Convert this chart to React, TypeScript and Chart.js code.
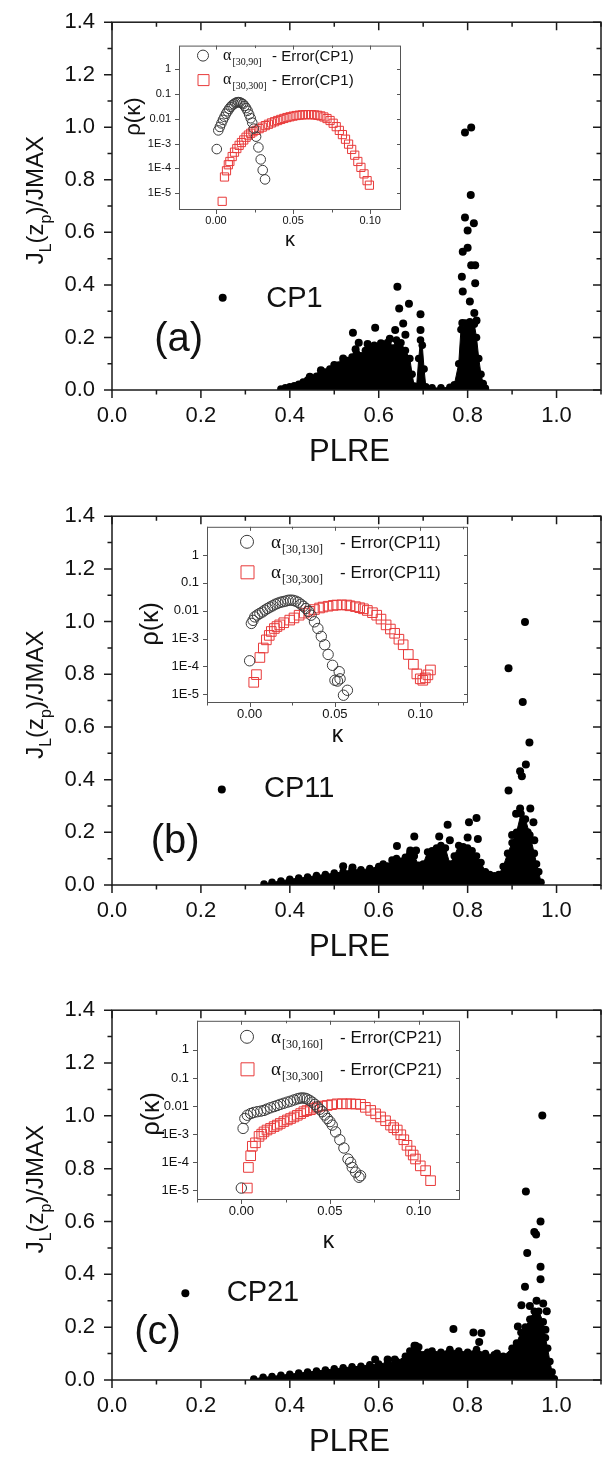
import React, { useEffect, useRef } from "react";
import { Chart, registerables } from "chart.js";
Chart.register(...registerables);

const SANS = '"Liberation Sans", Arial, Helvetica, sans-serif';
const SERIF = '"Liberation Serif", "Times New Roman", serif';

// ---------- axis ticks ----------
const plreTicks = [0, 0.2, 0.4, 0.6, 0.8, 1.0];
const plreMinorTicks = [0.1, 0.3, 0.5, 0.7, 0.9, 1.1];
const jTicks = [0, 0.2, 0.4, 0.6, 0.8, 1.0, 1.2, 1.4];
const jMinorTicks = [0.1, 0.3, 0.5, 0.7, 0.9, 1.1, 1.3];
const kappaTicks = [0, 0.05, 0.1];
const kappaTickLabels = ["0.00", "0.05", "0.10"];
const kappaMinorTicks = [-0.025, 0.025, 0.075, 0.125];
const rhoTicks = [1e-5, 1e-4, 1e-3, 0.01, 0.1, 1];
const rhoTickLabels = ["1E-5", "1E-4", "1E-3", "0.01", "0.1", "1"];

// ---------- CP1 (a) ----------
const cp1MassX = [0.38, 0.39, 0.4, 0.41, 0.42, 0.43, 0.44, 0.45, 0.46, 0.47, 0.48, 0.49, 0.5, 0.51, 0.52, 0.53, 0.54, 0.55, 0.56, 0.57, 0.58, 0.59, 0.6, 0.61, 0.62, 0.63, 0.64, 0.65, 0.66, 0.67, 0.675, 0.68, 0.685, 0.69, 0.694, 0.698, 0.702, 0.706, 0.72, 0.74, 0.76, 0.77, 0.78, 0.785, 0.795, 0.805, 0.815, 0.82, 0.825, 0.83, 0.835, 0.84];
const cp1MassY = [0.004, 0.008, 0.012, 0.016, 0.022, 0.03, 0.038, 0.044, 0.052, 0.062, 0.068, 0.08, 0.086, 0.095, 0.108, 0.112, 0.125, 0.14, 0.13, 0.15, 0.16, 0.17, 0.155, 0.165, 0.17, 0.16, 0.19, 0.18, 0.15, 0.12, 0.06, 0.015, 0.01, 0.12, 0.19, 0.17, 0.08, 0.012, 0.008, 0.008, 0.01, 0.02, 0.1, 0.23, 0.255, 0.26, 0.25, 0.2, 0.12, 0.06, 0.025, 0.006];
const cp1OutX = [0.794, 0.808, 0.807, 0.814, 0.794, 0.8, 0.8, 0.789, 0.808, 0.817, 0.787, 0.817, 0.789, 0.805, 0.815, 0.788, 0.82, 0.642, 0.646, 0.668, 0.694, 0.655, 0.694, 0.542, 0.592, 0.637, 0.555, 0.548, 0.575, 0.605, 0.62, 0.66, 0.625, 0.47, 0.5, 0.52, 0.445];
const cp1OutY = [0.98, 0.999, 0.742, 0.635, 0.657, 0.607, 0.541, 0.526, 0.475, 0.475, 0.431, 0.406, 0.375, 0.337, 0.293, 0.255, 0.265, 0.393, 0.31, 0.328, 0.288, 0.253, 0.228, 0.218, 0.237, 0.228, 0.18, 0.155, 0.175, 0.178, 0.18, 0.21, 0.195, 0.075, 0.095, 0.12, 0.05];
const cp1KeyX = [0.249];
const cp1KeyY = [0.351];
const cp1NarrowKappa = [0.0005, 0.0015, 0.0025, 0.0035, 0.0045, 0.0055, 0.0065, 0.0075, 0.0085, 0.0095, 0.0105, 0.0115, 0.0125, 0.0135, 0.0145, 0.0155, 0.0165, 0.0175, 0.0185, 0.0195, 0.0205, 0.0215, 0.0225, 0.0235, 0.0245, 0.026, 0.0275, 0.029, 0.0303, 0.0318];
const cp1NarrowRho = [6e-4, 3.4e-3, 4.7e-3, 6.5e-3, 9e-3, 0.012, 0.016, 0.02, 0.025, 0.03, 0.035, 0.039, 0.043, 0.046, 0.047, 0.046, 0.043, 0.039, 0.033, 0.027, 0.021, 0.015, 0.0105, 7e-3, 4e-3, 1.9e-3, 7e-4, 2.3e-4, 8.5e-5, 3.6e-5];
const cp1FullKappa = [0.004, 0.0055, 0.0068, 0.008, 0.009, 0.0105, 0.012, 0.0135, 0.015, 0.0165, 0.018, 0.0195, 0.021, 0.0225, 0.024, 0.026, 0.028, 0.03, 0.032, 0.034, 0.036, 0.038, 0.04, 0.042, 0.044, 0.046, 0.048, 0.05, 0.052, 0.054, 0.056, 0.058, 0.06, 0.062, 0.064, 0.066, 0.068, 0.07, 0.072, 0.074, 0.076, 0.078, 0.08, 0.082, 0.084, 0.086, 0.088, 0.09, 0.092, 0.094, 0.096, 0.098, 0.0995];
const cp1FullRho = [4.7e-6, 4.5e-5, 8e-5, 1.4e-4, 1.9e-4, 3e-4, 4.5e-4, 6.3e-4, 8.5e-4, 1.1e-3, 1.4e-3, 1.8e-3, 2.2e-3, 2.6e-3, 3e-3, 3.4e-3, 4e-3, 4.6e-3, 5.3e-3, 6e-3, 6.8e-3, 7.6e-3, 8.5e-3, 9.4e-3, 0.0103, 0.0112, 0.012, 0.0128, 0.0135, 0.014, 0.0144, 0.0146, 0.0147, 0.0146, 0.0143, 0.0138, 0.013, 0.0118, 0.0102, 8.5e-3, 6.6e-3, 4.8e-3, 3.4e-3, 2.3e-3, 1.5e-3, 9.5e-4, 5.8e-4, 3.4e-4, 1.9e-4, 1.1e-4, 6e-5, 3.2e-5, 2.1e-5];

// ---------- CP11 (b) ----------
const cp11MassX = [0.342, 0.36, 0.38, 0.4, 0.42, 0.44, 0.46, 0.48, 0.5, 0.52, 0.54, 0.56, 0.58, 0.6, 0.61, 0.62, 0.63, 0.64, 0.65, 0.66, 0.67, 0.68, 0.69, 0.7, 0.71, 0.72, 0.73, 0.74, 0.75, 0.76, 0.77, 0.78, 0.79, 0.8, 0.81, 0.82, 0.83, 0.84, 0.85, 0.86, 0.87, 0.88, 0.89, 0.9, 0.91, 0.92, 0.93, 0.94, 0.95, 0.955, 0.96, 0.965];
const cp11MassY = [0.004, 0.01, 0.015, 0.022, 0.026, 0.03, 0.036, 0.04, 0.045, 0.05, 0.058, 0.058, 0.062, 0.07, 0.08, 0.072, 0.095, 0.1, 0.09, 0.105, 0.12, 0.11, 0.075, 0.08, 0.125, 0.13, 0.14, 0.15, 0.14, 0.08, 0.11, 0.15, 0.145, 0.14, 0.13, 0.11, 0.085, 0.05, 0.04, 0.035, 0.04, 0.07, 0.12, 0.16, 0.2, 0.27, 0.25, 0.19, 0.12, 0.08, 0.05, 0.01];
const cp11OutX = [0.929, 0.892, 0.924, 0.939, 0.931, 0.918, 0.922, 0.892, 0.918, 0.941, 0.909, 0.948, 0.935, 0.82, 0.803, 0.755, 0.68, 0.736, 0.823, 0.641, 0.671, 0.684, 0.52, 0.541, 0.8, 0.76, 0.9, 0.95];
const cp11OutY = [0.998, 0.823, 0.695, 0.541, 0.457, 0.432, 0.413, 0.359, 0.29, 0.29, 0.27, 0.238, 0.2, 0.254, 0.238, 0.229, 0.184, 0.184, 0.175, 0.148, 0.131, 0.131, 0.071, 0.066, 0.18, 0.17, 0.19, 0.17];
const cp11KeyX = [0.247];
const cp11KeyY = [0.363];
const cp11NarrowKappa = [0.0, 0.001, 0.002, 0.003, 0.0045, 0.006, 0.0075, 0.009, 0.0105, 0.012, 0.0135, 0.015, 0.0165, 0.018, 0.0195, 0.021, 0.0225, 0.024, 0.0255, 0.027, 0.0285, 0.03, 0.0315, 0.033, 0.0345, 0.036, 0.038, 0.04, 0.042, 0.044, 0.046, 0.0486, 0.05, 0.0515, 0.0525, 0.053, 0.055, 0.0573];
const cp11NarrowRho = [1.6e-4, 3.5e-3, 4.5e-3, 6e-3, 7e-3, 8e-3, 9e-3, 0.0105, 0.012, 0.0135, 0.015, 0.017, 0.0185, 0.02, 0.021, 0.022, 0.0235, 0.024, 0.0235, 0.022, 0.02, 0.017, 0.0145, 0.012, 0.0095, 6.9e-3, 4e-3, 2.3e-3, 1.2e-3, 6e-4, 2.7e-4, 1.1e-4, 3.2e-5, 3e-5, 6.5e-5, 3.6e-5, 9.3e-6, 1.4e-5];
const cp11FullKappa = [0.0024, 0.004, 0.006, 0.008, 0.0098, 0.0115, 0.0127, 0.0145, 0.016, 0.0176, 0.02, 0.0235, 0.026, 0.029, 0.032, 0.035, 0.038, 0.041, 0.043, 0.046, 0.049, 0.051, 0.054, 0.057, 0.0588, 0.062, 0.0645, 0.0667, 0.069, 0.072, 0.0745, 0.077, 0.08, 0.0825, 0.085, 0.0875, 0.09, 0.093, 0.096, 0.098, 0.1, 0.1015, 0.103, 0.1045, 0.106];
const cp11FullRho = [2.7e-5, 5.1e-5, 2.1e-4, 4.6e-4, 9e-4, 1.3e-3, 1.8e-3, 2.3e-3, 2.7e-3, 3.1e-3, 3.7e-3, 4.6e-3, 5.5e-3, 6.9e-3, 8.2e-3, 9.5e-3, 0.011, 0.0125, 0.0135, 0.0145, 0.0155, 0.016, 0.0162, 0.016, 0.015, 0.014, 0.0128, 0.0117, 0.0102, 8.5e-3, 6.9e-3, 5e-3, 3.1e-3, 2.2e-3, 1.55e-3, 9.5e-4, 6e-4, 2.7e-4, 1.2e-4, 5.4e-5, 3.6e-5, 3.2e-5, 3.9e-5, 5e-5, 7.5e-5];

// ---------- CP21 (c) ----------
const cp21MassX = [0.319, 0.34, 0.36, 0.38, 0.4, 0.42, 0.44, 0.46, 0.48, 0.5, 0.52, 0.54, 0.56, 0.58, 0.6, 0.62, 0.64, 0.66, 0.67, 0.68, 0.69, 0.7, 0.71, 0.72, 0.74, 0.76, 0.78, 0.8, 0.82, 0.84, 0.86, 0.88, 0.9, 0.91, 0.92, 0.93, 0.94, 0.95, 0.96, 0.97, 0.975, 0.98, 0.985, 0.99, 0.995];
const cp21MassY = [0.004, 0.01, 0.013, 0.018, 0.022, 0.026, 0.03, 0.034, 0.038, 0.042, 0.046, 0.05, 0.052, 0.058, 0.06, 0.066, 0.07, 0.09, 0.11, 0.13, 0.125, 0.095, 0.105, 0.11, 0.105, 0.115, 0.11, 0.105, 0.115, 0.1, 0.095, 0.09, 0.12, 0.14, 0.18, 0.2, 0.23, 0.26, 0.26, 0.22, 0.16, 0.12, 0.07, 0.03, 0.005];
const cp21OutX = [0.968, 0.931, 0.964, 0.95, 0.954, 0.934, 0.964, 0.964, 0.929, 0.94, 0.921, 0.97, 0.978, 0.913, 0.768, 0.813, 0.831, 0.826, 0.683, 0.866, 0.592, 0.62, 0.636, 0.955, 0.945, 0.975];
const cp21OutY = [1.001, 0.714, 0.6, 0.56, 0.551, 0.481, 0.429, 0.381, 0.353, 0.28, 0.283, 0.29, 0.26, 0.203, 0.193, 0.18, 0.178, 0.144, 0.13, 0.1, 0.078, 0.078, 0.078, 0.3, 0.23, 0.19];
const cp21KeyX = [0.165];
const cp21KeyY = [0.328];
const cp21NarrowKappa = [0.0, 0.001, 0.002, 0.0034, 0.0053, 0.007, 0.009, 0.011, 0.0128, 0.0145, 0.0165, 0.0185, 0.0203, 0.022, 0.024, 0.026, 0.0278, 0.0297, 0.0316, 0.033, 0.0344, 0.0358, 0.037, 0.0385, 0.04, 0.0415, 0.0429, 0.0443, 0.0457, 0.047, 0.0485, 0.05, 0.0513, 0.0532, 0.0556, 0.0579, 0.0602, 0.0617, 0.0626, 0.0645, 0.0664, 0.0673];
const cp21NarrowRho = [1.2e-5, 1.6e-3, 3.6e-3, 4.7e-3, 5.4e-3, 5.9e-3, 6.3e-3, 6.6e-3, 7e-3, 7.8e-3, 8.7e-3, 9.6e-3, 0.0105, 0.0115, 0.0126, 0.0138, 0.0149, 0.0165, 0.018, 0.019, 0.0195, 0.019, 0.018, 0.016, 0.0138, 0.0115, 9.3e-3, 7.7e-3, 6.3e-3, 4.8e-3, 3.6e-3, 2.8e-3, 2.1e-3, 1.2e-3, 6.3e-4, 3.2e-4, 1.3e-4, 9.8e-5, 6.5e-5, 4.4e-5, 2.9e-5, 3.3e-5];
const cp21FullKappa = [0.0034, 0.004, 0.0053, 0.0062, 0.008, 0.01, 0.0115, 0.0128, 0.0145, 0.0165, 0.0185, 0.0203, 0.022, 0.024, 0.026, 0.0278, 0.0297, 0.0316, 0.0335, 0.0353, 0.037, 0.039, 0.041, 0.0429, 0.0457, 0.0485, 0.051, 0.054, 0.057, 0.0595, 0.0617, 0.0645, 0.0673, 0.07, 0.073, 0.0758, 0.0786, 0.0814, 0.0842, 0.086, 0.088, 0.09, 0.0917, 0.0935, 0.0955, 0.097, 0.0983, 0.101, 0.104, 0.1068];
const cp21FullRho = [1.2e-5, 6.5e-5, 1.7e-4, 3.7e-4, 4.9e-4, 8.3e-4, 1e-3, 1.2e-3, 1.4e-3, 1.6e-3, 1.85e-3, 2.1e-3, 2.4e-3, 2.8e-3, 3.2e-3, 3.6e-3, 4.1e-3, 4.7e-3, 5.4e-3, 6.3e-3, 6.9e-3, 7.4e-3, 8.4e-3, 9.3e-3, 0.01, 0.0105, 0.0112, 0.012, 0.012, 0.012, 0.012, 0.0118, 0.0115, 9e-3, 7e-3, 5.3e-3, 4.1e-3, 3e-3, 2.1e-3, 1.7e-3, 1.4e-3, 9.5e-4, 6.3e-4, 4e-4, 2.5e-4, 1.8e-4, 1.3e-4, 7.4e-5, 5e-5, 2.2e-5];

// ---------- helpers ----------
function zip(xs: number[], ys: number[]) {
  const n = Math.min(xs.length, ys.length);
  const out: { x: number; y: number }[] = [];
  for (let i = 0; i < n; i++) out.push({ x: xs[i], y: ys[i] });
  return out;
}

type PanelCfg = {
  canvasTop: number;
  canvasHeight: number;
  plotTop: number;
  plotBottom: number;
  massX: number[];
  massY: number[];
  outX: number[];
  outY: number[];
  keyX: number[];
  keyY: number[];
  cpLabel: string;
  cpPos: [number, number];
  tag: string;
  tagPos: [number, number];
};

type InsetCfg = {
  box: { left: number; top: number; right: number; bottom: number };
  xMin: number;
  xMax: number;
  yMin: number;
  yMax: number;
  narrowK: number[];
  narrowR: number[];
  fullK: number[];
  fullR: number[];
  narrowSub: string;
  cpName: string;
  tickFont: number;
  circleR: number;
  squareR: number;
  legend: { mx: number; rows: [number, number]; ax: number; tx: number; mr: number; aSize: number; subSize: number; textSize: number };
  kappaDy: number;
  rhoPos: [number, number];
  titleSize: number;
  rhoSize: number;
};

const panels: PanelCfg[] = [
  { canvasTop: 0, canvasHeight: 494, plotTop: 18, plotBottom: 390, massX: cp1MassX, massY: cp1MassY, outX: cp1OutX, outY: cp1OutY, keyX: cp1KeyX, keyY: cp1KeyY, cpLabel: "CP1", cpPos: [0.347, 0.347], tag: "(a)", tagPos: [0.095, 0.19] },
  { canvasTop: 494, canvasHeight: 494, plotTop: 512, plotBottom: 885, massX: cp11MassX, massY: cp11MassY, outX: cp11OutX, outY: cp11OutY, keyX: cp11KeyX, keyY: cp11KeyY, cpLabel: "CP11", cpPos: [0.342, 0.363], tag: "(b)", tagPos: [0.087, 0.163] },
  { canvasTop: 988, canvasHeight: 475, plotTop: 1008, plotBottom: 1380, massX: cp21MassX, massY: cp21MassY, outX: cp21OutX, outY: cp21OutY, keyX: cp21KeyX, keyY: cp21KeyY, cpLabel: "CP21", cpPos: [0.258, 0.328], tag: "(c)", tagPos: [0.05, 0.178] },
];

const insets: InsetCfg[] = [
  {
    box: { left: 179, top: 43, right: 401, bottom: 210 }, xMin: -0.024, xMax: 0.12, yMin: 2.1e-6, yMax: 8.9,
    narrowK: cp1NarrowKappa, narrowR: cp1NarrowRho, fullK: cp1FullKappa, fullR: cp1FullRho,
    narrowSub: "[30,90]", cpName: "CP1", tickFont: 11, circleR: 4.8, squareR: 5.8,
    legend: { mx: 24, rows: [10, 34], ax: 44, tx: 93, mr: 5.5, aSize: 16, subSize: 10, textSize: 15 },
    kappaDy: 30, rhoPos: [-45, 71], titleSize: 20, rhoSize: 22,
  },
  {
    box: { left: 207, top: 523, right: 468, bottom: 703 }, xMin: -0.025, xMax: 0.128, yMin: 4.9e-6, yMax: 10.2,
    narrowK: cp11NarrowKappa, narrowR: cp11NarrowRho, fullK: cp11FullKappa, fullR: cp11FullRho,
    narrowSub: "[30,130]", cpName: "CP11", tickFont: 13, circleR: 5.2, squareR: 6.8,
    legend: { mx: 40, rows: [15, 45], ax: 64, tx: 133, mr: 6.5, aSize: 19, subSize: 12, textSize: 17 },
    kappaDy: 33, rhoPos: [-56, 97], titleSize: 23, rhoSize: 25,
  },
  {
    box: { left: 197, top: 1017, right: 460, bottom: 1200 }, xMin: -0.025, xMax: 0.1234, yMin: 4.5e-6, yMax: 10.9,
    narrowK: cp21NarrowKappa, narrowR: cp21NarrowRho, fullK: cp21FullKappa, fullR: cp21FullRho,
    narrowSub: "[30,160]", cpName: "CP21", tickFont: 13, circleR: 5.2, squareR: 6.8,
    legend: { mx: 50, rows: [16, 48], ax: 74, tx: 143, mr: 6.5, aSize: 19, subSize: 12, textSize: 17 },
    kappaDy: 42, rhoPos: [-45, 93], titleSize: 23, rhoSize: 25,
  },
];

function drawYTitle(ctx: CanvasRenderingContext2D, cx: number, cy: number, size: number) {
  const parts: [string, boolean][] = [["J", false], ["L", true], ["(z", false], ["p", true], [")/JMAX", false]];
  const subSize = Math.round(size * 0.65);
  let total = 0;
  const widths = parts.map(([t, sub]) => {
    ctx.font = `${sub ? subSize : size}px ${SANS}`;
    const w = ctx.measureText(t).width;
    total += w;
    return w;
  });
  ctx.save();
  ctx.translate(cx, cy);
  ctx.rotate(-Math.PI / 2);
  ctx.textBaseline = "alphabetic";
  ctx.textAlign = "left";
  ctx.fillStyle = "#111";
  let x = -total / 2;
  parts.forEach(([t, sub], i) => {
    ctx.font = `${sub ? subSize : size}px ${SANS}`;
    ctx.fillText(t, x, sub ? size * 0.32 : 0);
    x += widths[i];
  });
  ctx.restore();
}

function makeMainDecor(p: PanelCfg) {
  return {
    id: "mainDecor",
    afterDraw(chart: any) {
      const ctx: CanvasRenderingContext2D = chart.ctx;
      const { left, right, top, bottom } = chart.chartArea;
      const xs = chart.scales.x;
      const ys = chart.scales.y;
      ctx.save();
      ctx.strokeStyle = "#1a1a1a";
      ctx.lineWidth = 1.5;
      ctx.strokeRect(left, top, right - left, bottom - top);
      ctx.beginPath();
      const xt = (v: number, len: number) => {
        const px = xs.getPixelForValue(v);
        ctx.moveTo(px, bottom);
        ctx.lineTo(px, bottom + len);
        ctx.moveTo(px, top);
        ctx.lineTo(px, top + len);
      };
      const yt = (v: number, len: number) => {
        const py = ys.getPixelForValue(v);
        ctx.moveTo(left - len, py);
        ctx.lineTo(left, py);
        ctx.moveTo(right - len, py);
        ctx.lineTo(right, py);
      };
      plreTicks.forEach((v) => xt(v, 8));
      plreMinorTicks.forEach((v) => xt(v, 4.5));
      jTicks.forEach((v) => yt(v, 8));
      jMinorTicks.forEach((v) => yt(v, 4.5));
      ctx.stroke();

      // texts
      ctx.fillStyle = "#111";
      ctx.textBaseline = "middle";
      ctx.textAlign = "left";
      ctx.font = `29px ${SANS}`;
      ctx.fillText(p.cpLabel, xs.getPixelForValue(p.cpPos[0]), ys.getPixelForValue(p.cpPos[1]));
      ctx.font = `40px ${SANS}`;
      ctx.fillText(p.tag, xs.getPixelForValue(p.tagPos[0]), ys.getPixelForValue(p.tagPos[1]));
      ctx.textAlign = "center";
      ctx.font = `31px ${SANS}`;
      ctx.fillText("PLRE", (left + right) / 2 - 7, bottom + 62);
      ctx.restore();
      drawYTitle(ctx, 43, (top + bottom) / 2 - 6, 24);
    },
  };
}

function MainPanel({ p }: { p: PanelCfg }) {
  const ref = useRef<HTMLCanvasElement | null>(null);
  useEffect(() => {
    if (!ref.current) return;
    const chart = new Chart(ref.current, {
      type: "scatter",
      data: {
        datasets: [
          {
            type: "line",
            data: zip(p.massX, p.massY),
            borderColor: "#000",
            backgroundColor: "#000",
            borderWidth: 1,
            fill: "origin",
            tension: 0,
            pointRadius: 3.8,
            pointBackgroundColor: "#000",
            pointBorderWidth: 0,
          } as any,
          {
            data: zip(p.outX, p.outY),
            pointRadius: 4,
            backgroundColor: "#000",
            borderColor: "#000",
            pointBorderWidth: 0,
          },
          {
            data: zip(p.keyX, p.keyY),
            pointRadius: 4,
            backgroundColor: "#000",
            borderColor: "#000",
            pointBorderWidth: 0,
          },
        ],
      },
      options: {
        animation: false,
        responsive: false,
        events: [],
        layout: { padding: { top: p.plotTop - p.canvasTop, right: 4, left: 0, bottom: 0 } },
        plugins: { legend: { display: false }, tooltip: { enabled: false } },
        scales: {
          x: {
            type: "linear",
            min: 0,
            max: 1.1,
            grid: { display: false, tickLength: 8 },
            border: { display: false },
            afterBuildTicks: (s: any) => {
              s.ticks = plreTicks.map((v) => ({ value: v }));
            },
            afterFit: (s: any) => {
              s.height = p.canvasTop + p.canvasHeight - p.plotBottom;
            },
            ticks: {
              autoSkip: false,
              maxRotation: 0,
              padding: 5,
              color: "#111",
              font: { family: SANS, size: 22 },
              callback: (v: any) => Number(v).toFixed(1),
            },
          },
          y: {
            type: "linear",
            min: 0,
            max: 1.4,
            grid: { display: false, tickLength: 8 },
            border: { display: false },
            afterBuildTicks: (s: any) => {
              s.ticks = jTicks.map((v) => ({ value: v }));
            },
            afterFit: (s: any) => {
              s.width = 112;
            },
            ticks: {
              autoSkip: false,
              padding: 9,
              color: "#111",
              font: { family: SANS, size: 22 },
              callback: (v: any) => Number(v).toFixed(1),
            },
          },
        },
      },
      plugins: [makeMainDecor(p)],
    } as any);
    return () => chart.destroy();
  }, []);
  return (
    <canvas
      ref={ref}
      width={605}
      height={p.canvasHeight}
      style={{ position: "absolute", left: 0, top: p.canvasTop, width: 605, height: p.canvasHeight }}
    />
  );
}

const RED = "rgb(232,58,58)";
const GREY = "#3a3a3a";

function makeInsetDecor(c: InsetCfg) {
  return {
    id: "insetDecor",
    afterDraw(chart: any) {
      const ctx: CanvasRenderingContext2D = chart.ctx;
      const { left, right, top, bottom } = chart.chartArea;
      const xs = chart.scales.x;
      const ys = chart.scales.y;
      ctx.save();
      ctx.strokeStyle = "#555";
      ctx.lineWidth = 1;
      ctx.strokeRect(left + 0.5, top + 0.5, right - left - 1, bottom - top - 1);
      ctx.beginPath();
      const xt = (v: number, len: number) => {
        if (v < c.xMin || v > c.xMax) return;
        const px = Math.round(xs.getPixelForValue(v)) + 0.5;
        ctx.moveTo(px, bottom);
        ctx.lineTo(px, bottom + len);
        ctx.moveTo(px, top);
        ctx.lineTo(px, top + len);
      };
      const yt = (v: number, len: number) => {
        const py = Math.round(ys.getPixelForValue(v)) + 0.5;
        ctx.moveTo(left - len, py);
        ctx.lineTo(left, py);
        ctx.moveTo(right - len, py);
        ctx.lineTo(right, py);
      };
      kappaTicks.forEach((v) => xt(v, 4));
      kappaMinorTicks.forEach((v) => xt(v, 2.5));
      rhoTicks.forEach((v) => yt(v, 4));
      ctx.stroke();

      // legend
      const L = c.legend;
      const rows: [boolean, string][] = [
        [true, c.narrowSub],
        [false, "[30,300]"],
      ];
      rows.forEach(([circle, sub], i) => {
        const mx = left + L.mx;
        const my = top + L.rows[i];
        ctx.beginPath();
        if (circle) ctx.arc(mx, my, L.mr, 0, Math.PI * 2);
        else ctx.rect(mx - L.mr + 0.5, my - L.mr + 0.5, 2 * L.mr, 2 * L.mr);
        ctx.strokeStyle = circle ? GREY : RED;
        ctx.lineWidth = 1;
        ctx.stroke();
        ctx.fillStyle = "#111";
        ctx.textAlign = "left";
        ctx.textBaseline = "alphabetic";
        let x = left + L.ax;
        ctx.font = `${L.aSize}px ${SERIF}`;
        ctx.fillText("α", x, my + L.aSize * 0.3);
        x += ctx.measureText("α").width + 1;
        ctx.font = `${L.subSize}px ${SERIF}`;
        ctx.fillText(sub, x, my + L.aSize * 0.3 + L.subSize * 0.45);
        ctx.font = `${L.textSize}px ${SANS}`;
        ctx.fillText(`- Error(${c.cpName})`, left + L.tx, my + L.textSize * 0.35);
      });

      // axis titles
      ctx.fillStyle = "#111";
      ctx.textAlign = "center";
      ctx.textBaseline = "middle";
      ctx.font = `${c.titleSize}px ${SANS}`;
      ctx.fillText("κ", (left + right) / 2, bottom + c.kappaDy);
      ctx.save();
      ctx.translate(left + c.rhoPos[0], top + c.rhoPos[1]);
      ctx.rotate(-Math.PI / 2);
      ctx.font = `${c.rhoSize}px ${SANS}`;
      ctx.fillText("ρ(κ)", 0, 0);
      ctx.restore();
      ctx.restore();
    },
  };
}

function InsetPanel({ c }: { c: InsetCfg }) {
  const ref = useRef<HTMLCanvasElement | null>(null);
  const padL = 80;
  const padT = 8;
  const padR = 8;
  const padB = 60;
  const w = c.box.right - c.box.left + padL + padR;
  const h = c.box.bottom - c.box.top + padT + padB;
  useEffect(() => {
    if (!ref.current) return;
    const chart = new Chart(ref.current, {
      type: "scatter",
      data: {
        datasets: [
          {
            data: zip(c.narrowK, c.narrowR),
            pointStyle: "circle",
            pointRadius: c.circleR,
            borderColor: GREY,
            backgroundColor: "rgba(0,0,0,0)",
            pointBorderWidth: 1,
            borderWidth: 1,
          },
          {
            data: zip(c.fullK, c.fullR),
            pointStyle: "rect",
            pointRadius: c.squareR,
            borderColor: RED,
            backgroundColor: "rgba(0,0,0,0)",
            pointBorderWidth: 1,
            borderWidth: 1,
          },
        ],
      },
      options: {
        animation: false,
        responsive: false,
        events: [],
        layout: { padding: { top: padT, right: padR, left: 0, bottom: 0 } },
        plugins: { legend: { display: false }, tooltip: { enabled: false } },
        scales: {
          x: {
            type: "linear",
            min: c.xMin,
            max: c.xMax,
            grid: { display: false, tickLength: 4 },
            border: { display: false },
            afterBuildTicks: (s: any) => {
              s.ticks = kappaTicks.map((v) => ({ value: v }));
            },
            afterFit: (s: any) => {
              s.height = padB;
            },
            ticks: {
              autoSkip: false,
              maxRotation: 0,
              padding: 0,
              color: "#111",
              font: { family: SANS, size: c.tickFont },
              callback: (_v: any, i: number) => kappaTickLabels[i],
            },
          },
          y: {
            type: "logarithmic",
            min: c.yMin,
            max: c.yMax,
            grid: { display: false, tickLength: 4 },
            border: { display: false },
            afterBuildTicks: (s: any) => {
              s.ticks = rhoTicks.map((v) => ({ value: v }));
            },
            afterFit: (s: any) => {
              s.width = padL;
            },
            ticks: {
              autoSkip: false,
              padding: 4,
              color: "#111",
              font: { family: SANS, size: c.tickFont },
              callback: (_v: any, i: number) => rhoTickLabels[i],
            },
          },
        },
      },
      plugins: [makeInsetDecor(c)],
    } as any);
    return () => chart.destroy();
  }, []);
  return (
    <canvas
      ref={ref}
      width={w}
      height={h}
      style={{ position: "absolute", left: c.box.left - padL, top: c.box.top - padT, width: w, height: h }}
    />
  );
}

export default function App() {
  return (
    <div style={{ position: "absolute", left: 0, top: 0, width: 605, height: 1463, background: "#fff", overflow: "hidden" }}>
      {panels.map((p, i) => (
        <MainPanel key={"m" + i} p={p} />
      ))}
      {insets.map((c, i) => (
        <InsetPanel key={"i" + i} c={c} />
      ))}
    </div>
  );
}
